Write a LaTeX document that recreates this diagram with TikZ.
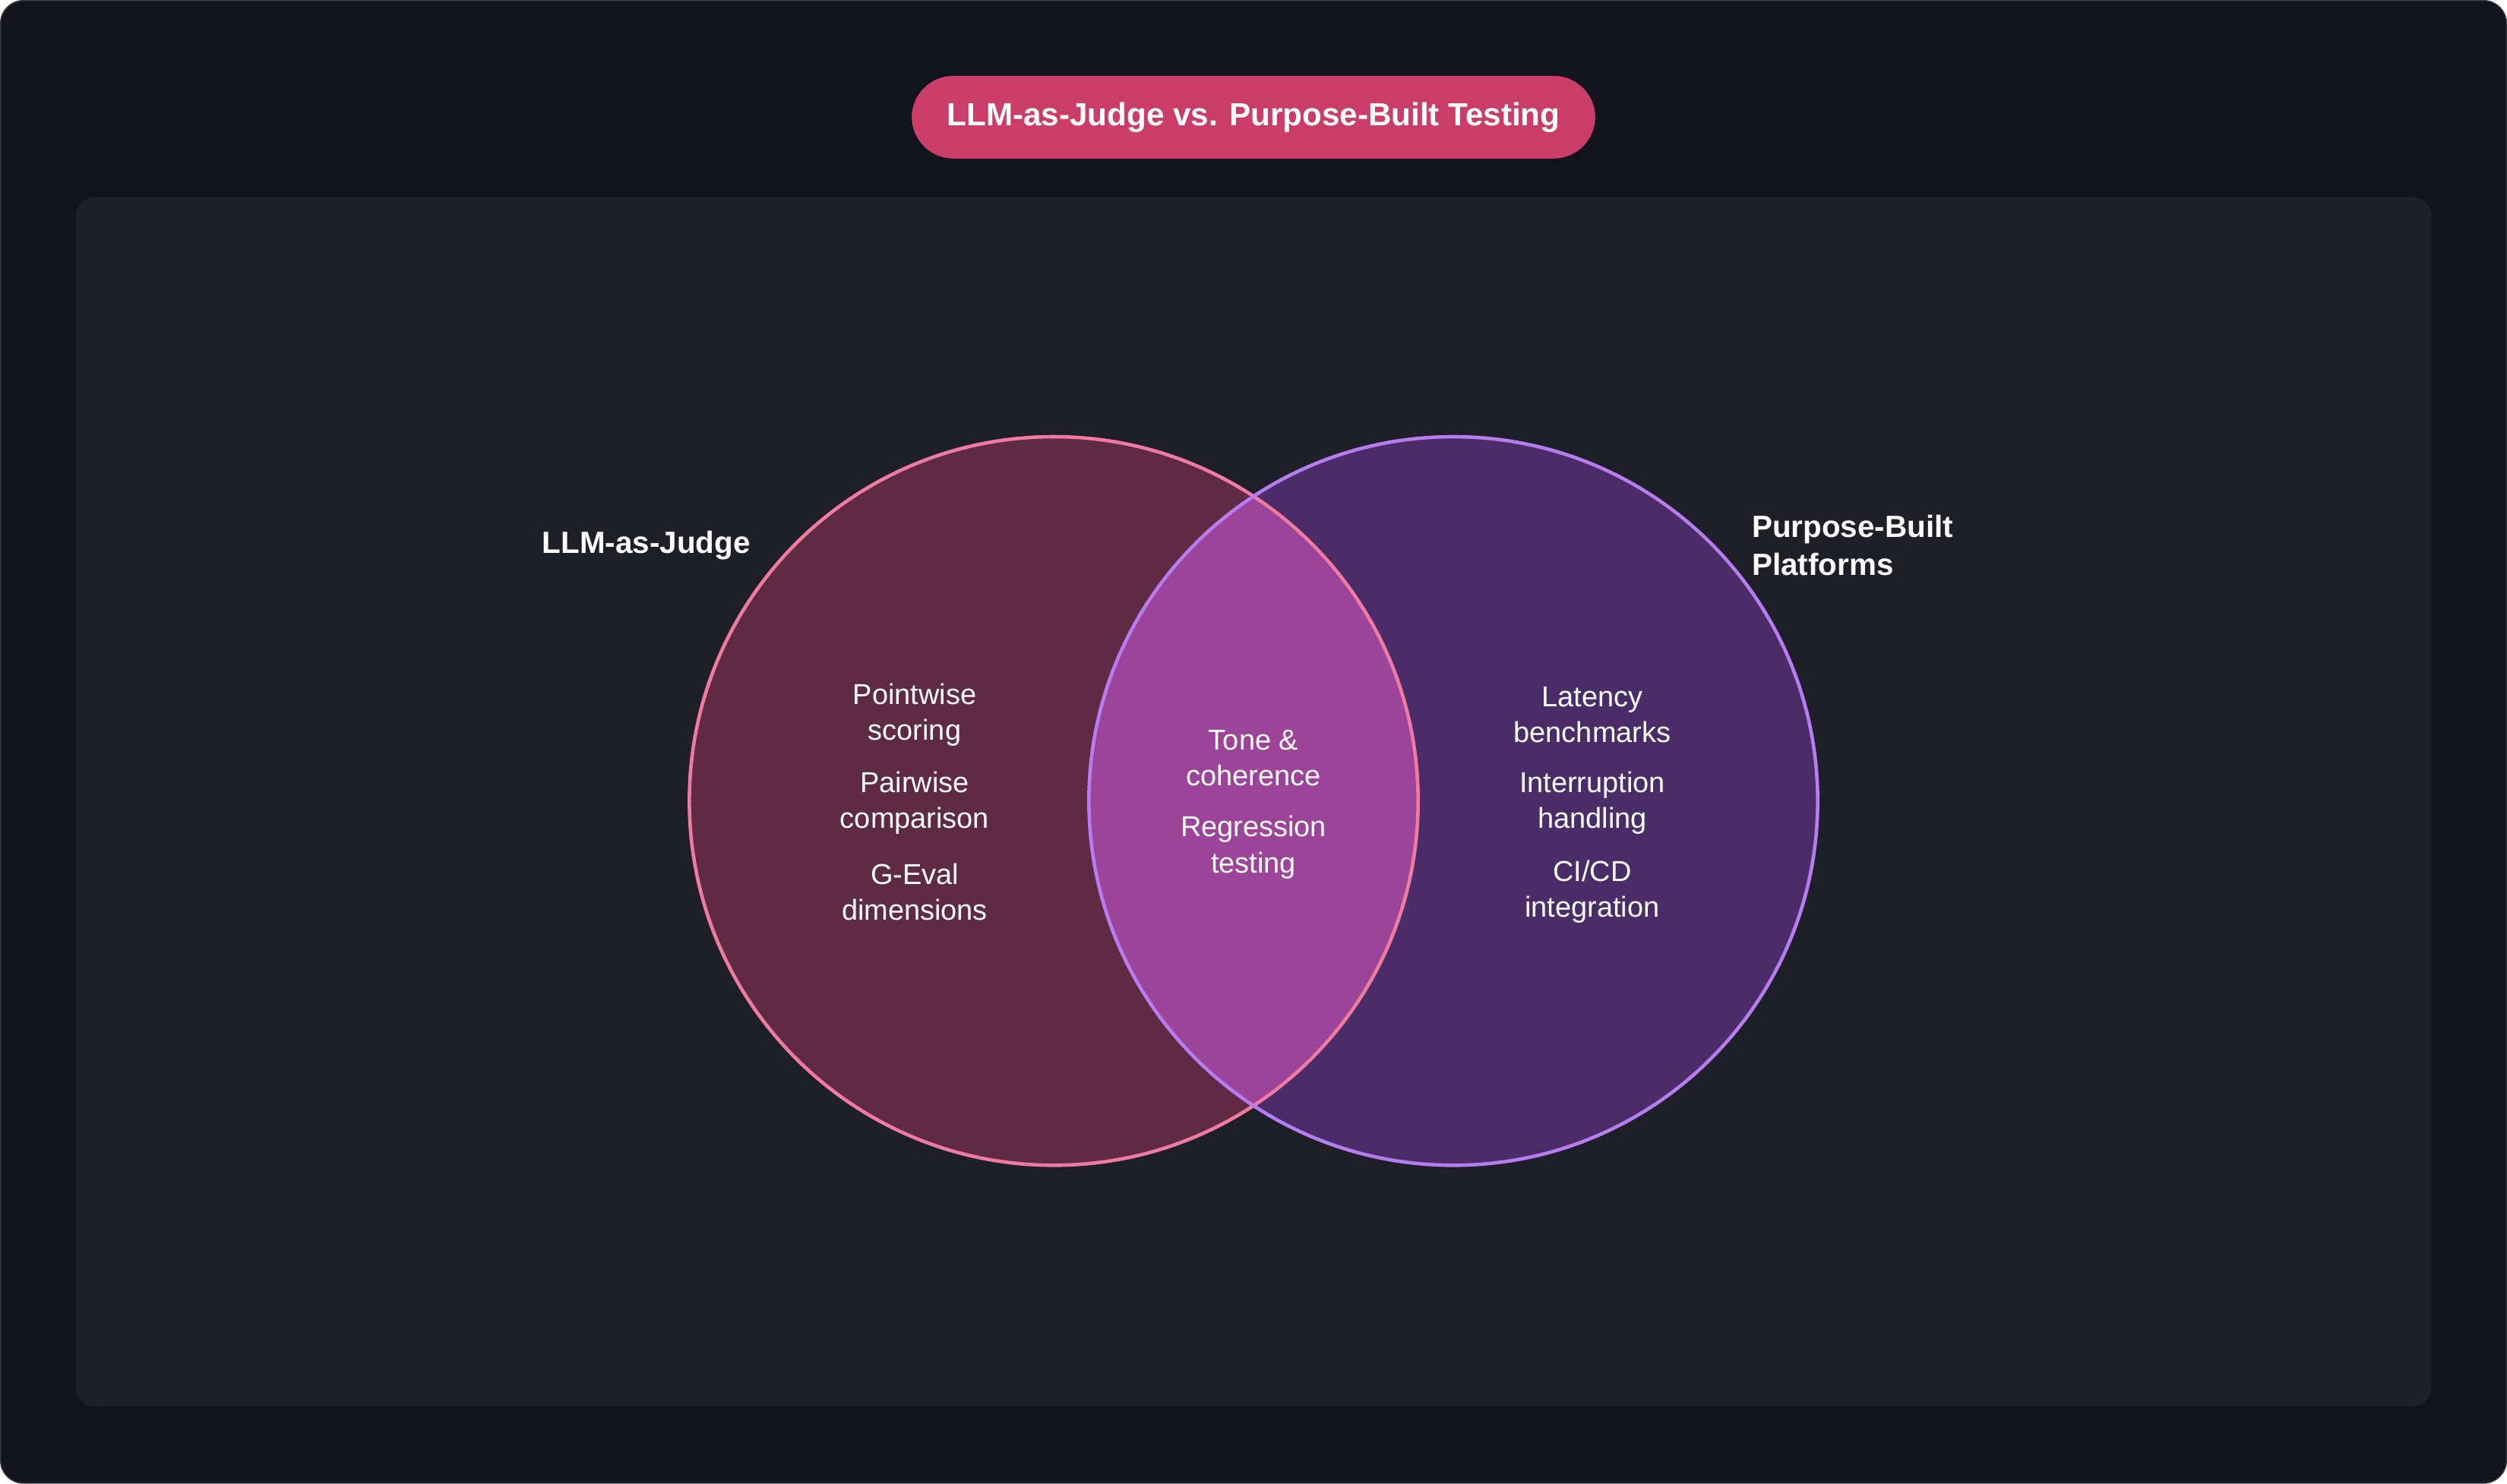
\documentclass[tikz,border=0pt]{standalone}
\usepackage{fontspec}
\setmainfont{Liberation Sans}
\usepackage{tikz}
\usetikzlibrary{positioning}
\definecolor{bgdark}{HTML}{12131E}
\definecolor{bgpanel}{HTML}{1E1F28}
\definecolor{bgedge}{HTML}{3A3B45}
\definecolor{pillred}{HTML}{C93D68}
\definecolor{judgefill}{HTML}{5E2B43}
\definecolor{judgeline}{HTML}{F07AA0}
\definecolor{builtfill}{HTML}{4A2D68}
\definecolor{builtline}{HTML}{B67CF0}
\definecolor{bothfill}{HTML}{9B4499}

\begin{document}
\begin{tikzpicture}[
    x=0.021046cm, y=-0.021046cm,
    item/.style={align=center, text=white, font=\fontsize{10.8}{13.4}\selectfont},
    setlabel/.style={align=left, text=white, anchor=west, font=\fontsize{11.5}{14}\selectfont\bfseries},
    ring/.style={line width=1.3pt}
]
    % background and panel
    \fill[bgdark, draw=bgedge, rounded corners=0.3cm] (0,0) rectangle (1568,928);
    \useasboundingbox (0,0) rectangle (1568,928);
    \fill[bgpanel, rounded corners=0.25cm] (47,123) rectangle (1521,880);

    % title
    \node[fill=pillred, rounded corners=0.55cm, minimum width=9.0cm, minimum height=1.09cm,
          text=white, font=\fontsize{12}{14}\selectfont\bfseries] (title) at (784,73)
          {LLM-as-Judge vs. Purpose-Built Testing};

    % the two sets
    \coordinate (judge) at (659,501);
    \coordinate (built) at (909,501);
    \fill[judgefill] (judge) circle[radius=228];
    \fill[builtfill] (built) circle[radius=228];
    \begin{scope}
        \clip (judge) circle[radius=228];
        \fill[bothfill] (built) circle[radius=228];
    \end{scope}
    \draw[ring, judgeline] (judge) circle[radius=228];
    \draw[ring, builtline] (built) circle[radius=228];

    % set labels
    \node[setlabel] (judgelabel) at (333,341) {LLM-as-Judge};
    \node[setlabel] (builtlabel) at (1090,341) {Purpose-Built\\Platforms};

    % left only
    \node[item] (pointwise) at (572,447) {Pointwise\\scoring};
    \node[item] (pairwise) at (572,502) {Pairwise\\comparison};
    \node[item] (geval) at (572,558) {G-Eval\\dimensions};

    % overlap
    \node[item] (tone) at (784,474) {Tone \&\\coherence};
    \node[item] (regression) at (784,530) {Regression\\testing};

    % right only
    \node[item] (latency) at (996,447) {Latency\\benchmarks};
    \node[item] (interrupt) at (996,502) {Interruption\\handling};
    \node[item] (cicd) at (996,558) {CI/CD\\integration};
\end{tikzpicture}
\end{document}
